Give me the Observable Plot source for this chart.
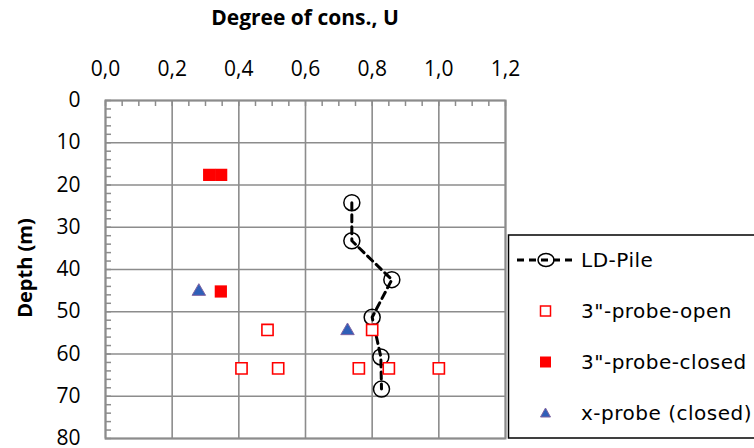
<!DOCTYPE html>
<html><head><meta charset="utf-8">
<script src="https://cdn.jsdelivr.net/npm/d3@7"></script>
<script src="https://cdn.jsdelivr.net/npm/@observablehq/plot@0.6"></script>
<style>
body{margin:0;background:#fff;}
#chart{position:relative;width:754px;height:448px;}
</style>
</head><body><div id="chart"></div>
<script>
const xTicks = [0, 0.2, 0.4, 0.6, 0.8, 1.0, 1.2];
const yTicks = [0, 10, 20, 30, 40, 50, 60, 70, 80];
const ldPileU = [0.739, 0.739, 0.859, 0.800, 0.826, 0.828];
const ldPileDepth = [24.2, 33.2, 42.4, 51.3, 60.7, 68.3];
const openU = [0.486, 0.800, 0.408, 0.518, 0.760, 0.850, 1.000];
const openDepth = [54.3, 54.3, 63.4, 63.4, 63.4, 63.4, 63.4];
const closedU = [0.311, 0.347, 0.346];
const closedDepth = [17.6, 17.6, 45.2];
const xProbeU = [0.280, 0.726];
const xProbeDepth = [45.2, 54.5];
const seriesNames = ["LD-Pile", "3\"-probe-open", "3\"-probe-closed", "x-probe (closed)"];

const minorX = d3.range(0, 1.2001, 0.05).map(v => +v.toFixed(2));
const minorY = d3.range(0, 80.001, 2);

const ld = ldPileU.map((u, i) => ({u, d: ldPileDepth[i]}));
const op = openU.map((u, i) => ({u, d: openDepth[i]}));
const cl = closedU.map((u, i) => ({u, d: closedDepth[i]}));
const xp = xProbeU.map((u, i) => ({u, d: xProbeDepth[i]}));

const grid = "#8c8c8c";
const plot = Plot.plot({
  width: 754, height: 448,
  marginLeft: 105, marginTop: 100, marginRight: 249, marginBottom: 10,
  style: {fontFamily: "'Open Sans', sans-serif", fontSize: "21px", color: "#000", background: "#fff", overflow: "visible"},
  x: {domain: [0, 1.2], label: null},
  y: {domain: [0, 80], reverse: true, label: null},
  marks: [
    Plot.gridX(xTicks, {stroke: grid, strokeOpacity: 1, strokeWidth: 1.6}),
    Plot.gridY(yTicks, {stroke: grid, strokeOpacity: 1, strokeWidth: 1.6}),
    Plot.axisX(minorX, {anchor: "top", tickSize: -5, stroke: grid, strokeWidth: 1.5, tickFormat: () => ""}),
    Plot.axisY(minorY, {anchor: "left", tickSize: -6, stroke: grid, strokeWidth: 1.5, tickFormat: () => ""}),
    Plot.axisX(xTicks, {anchor: "top", tickSize: 0, tickPadding: 25, fill: "#000", fontSize: 21,
      tickFormat: d => d.toFixed(1).replace(".", ",")}),
    Plot.axisY(yTicks, {anchor: "left", tickSize: 0, tickPadding: 25, fill: "#000", fontSize: 21}),
    Plot.frame({stroke: grid, strokeWidth: 2}),
    Plot.line(ld, {x: "u", y: "d", stroke: "#000", strokeWidth: 3, strokeDasharray: "7,5"}),
    Plot.dot(ld, {x: "u", y: "d", r: 8, stroke: "#000", strokeWidth: 1.5, fill: "none"}),
    Plot.dot(op, {x: "u", y: "d", symbol: "square", r: 6.3, stroke: "#ff0000", strokeWidth: 1.6, fill: "#fff"}),
    Plot.dot(cl, {x: "u", y: "d", symbol: "square", r: 6.9, fill: "#ff0000", stroke: "none"}),
    Plot.dot(xp, {x: "u", y: "d", symbol: "triangle", r: 5, fill: "#2f5fb8", stroke: "#8064a2", strokeWidth: 1})
  ]
});
document.getElementById("chart").appendChild(plot);

const svg = d3.select(plot);
const tf = "'Open Sans', sans-serif";
svg.append("text").attr("x", 305).attr("y", 18).attr("dy", "0.35em")
  .style("text-anchor", "middle").style("font-family", tf).style("font-weight", "bold").style("font-size", "21px")
  .text("Degree of cons., U");
svg.append("text").attr("transform", "translate(25,268) rotate(-90)").attr("dy", "0.35em")
  .style("text-anchor", "middle").style("font-family", tf).style("font-weight", "bold").style("font-size", "20px")
  .text("Depth (m)");

// legend
const lg = svg.append("g");
lg.append("rect").attr("x", 508.5).attr("y", 235).attr("width", 260).attr("height", 203)
  .attr("fill", "#fff").attr("stroke", "#000").attr("stroke-width", 1.5);
const rows = [260, 311, 362, 413];
const lf = "'DejaVu Sans', sans-serif";
rows.forEach((ry, i) => {
  lg.append("text").attr("x", 581).attr("y", ry).attr("dy", "0.35em")
    .style("text-anchor", "start").style("font-family", lf).style("font-size", "20px")
    .style("letter-spacing", "0.5px").attr("fill", "#000").text(seriesNames[i]);
});
lg.append("line").attr("x1", 517).attr("x2", 575).attr("y1", rows[0]).attr("y2", rows[0])
  .attr("stroke", "#000").attr("stroke-width", 3).attr("stroke-dasharray", "7,5");
lg.append("ellipse").attr("cx", 546).attr("cy", rows[0]).attr("rx", 8).attr("ry", 6.5)
  .attr("fill", "none").attr("stroke", "#000").attr("stroke-width", 1.5);
lg.append("rect").attr("x", 540.5).attr("y", rows[1] - 5).attr("width", 10).attr("height", 10)
  .attr("fill", "#fff").attr("stroke", "#ff0000").attr("stroke-width", 1.5);
lg.append("rect").attr("x", 540).attr("y", rows[2] - 5.5).attr("width", 11).attr("height", 11)
  .attr("fill", "#ff0000");
lg.append("path").attr("d", `M545.5,${rows[3]-5}L550.5,${rows[3]+4}L540.5,${rows[3]+4}Z`)
  .attr("fill", "#2f5fb8").attr("stroke", "#8064a2").attr("stroke-width", 1);
</script>
</body></html>
